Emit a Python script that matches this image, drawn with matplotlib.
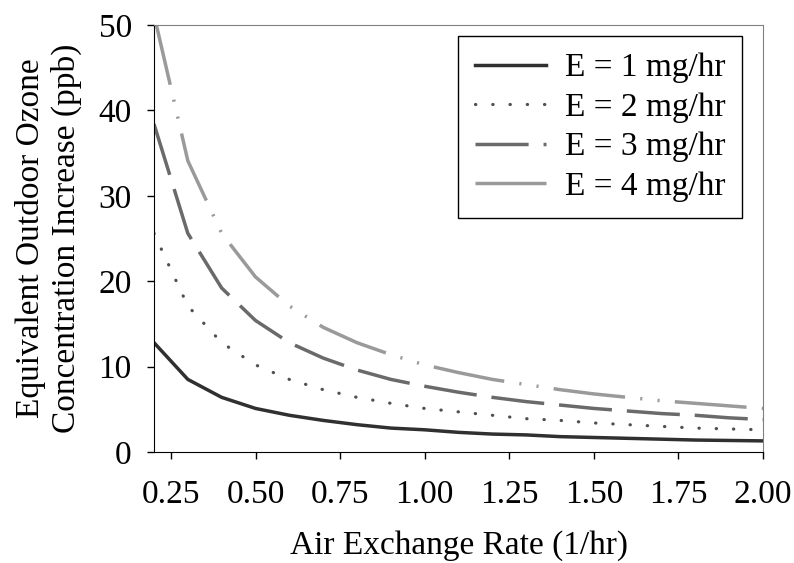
import matplotlib
matplotlib.use("Agg")
from matplotlib import pyplot as plt

plt.rcParams['font.family'] = ['Liberation Serif', 'DejaVu Serif']

# air exchange rate (1/hr)
rate = [0.2, 0.3, 0.4, 0.5, 0.6, 0.7, 0.8, 0.9, 1.0, 1.1,
        1.2, 1.3, 1.4, 1.5, 1.6, 1.7, 1.8, 1.9, 2.0]

# ozone increase (ppb) for each emission rate
e1 = [12.8, 8.5, 6.4, 5.1, 4.3, 3.7, 3.2, 2.8, 2.6, 2.3,
      2.1, 2.0, 1.8, 1.7, 1.6, 1.5, 1.4, 1.35, 1.3]
e2 = [25.6, 17.1, 12.8, 10.2, 8.5, 7.3, 6.4, 5.7, 5.1, 4.7,
      4.3, 3.9, 3.7, 3.4, 3.2, 3.0, 2.8, 2.7, 2.6]
e3 = [38.4, 25.6, 19.2, 15.4, 12.8, 11.0, 9.6, 8.5, 7.7, 7.0,
      6.4, 5.9, 5.5, 5.1, 4.8, 4.5, 4.3, 4.0, 3.8]
e4 = [51.2, 34.1, 25.6, 20.5, 17.1, 14.6, 12.8, 11.4, 10.2, 9.3,
      8.5, 7.9, 7.3, 6.8, 6.4, 6.0, 5.7, 5.4, 5.1]

labels = ['E = 1 mg/hr', 'E = 2 mg/hr', 'E = 3 mg/hr', 'E = 4 mg/hr']
xticks = [0.25, 0.50, 0.75, 1.00, 1.25, 1.50, 1.75, 2.00]
yticks = [0, 10, 20, 30, 40, 50]

fs = 24

fig = plt.figure(figsize=(7.94, 5.63), dpi=100)
ax = fig.add_axes([154 / 794, 1 - 452 / 563, (763 - 154) / 794, (452 - 25) / 563])

ax.plot(rate, e1, color='#303030', lw=2.5, label=labels[0])
ax.plot(rate, e2, color='#505050', lw=2.3, linestyle=(0, (0.1, 5.3)),
        dash_capstyle='round', label=labels[1])
ax.plot(rate, e3, color='#6a6a6a', lw=2.5, linestyle=(0, (15.3, 4.3)), label=labels[2])
ax.plot(rate, e4, color='#9a9a9a', lw=2.5,
        linestyle=(0, (20.7, 4.4, 0.6, 4.4, 0.6, 4.4)), label=labels[3])

ax.set_xlim(0.2, 2.0)
ax.set_ylim(0, 50)
ax.set_xticks(xticks)
ax.set_xticklabels(['%.2f' % v for v in xticks])
ax.set_yticks(yticks)
ax.tick_params(direction='out', length=5, width=1, labelsize=fs)
ax.tick_params(axis='x', pad=15)
ax.tick_params(axis='y', pad=11)

ax.spines['top'].set_color('#808080')
ax.spines['right'].set_color('#808080')
ax.spines['left'].set_color('black')
ax.spines['bottom'].set_color('black')

ax.set_xlabel('Air Exchange Rate (1/hr)', fontsize=fs, labelpad=14.5)
ax.set_ylabel('Equivalent Outdoor Ozone\nConcentration Increase (ppb)', fontsize=fs,
              labelpad=12, linespacing=1.2)

leg = ax.legend(loc='upper right', bbox_to_anchor=(0.9655, 0.974), borderaxespad=0,
                fontsize=fs, fancybox=False, edgecolor='black', framealpha=1,
                handlelength=2.15, borderpad=0.5, labelspacing=0.27,
                handletextpad=0.55)
leg.get_frame().set_linewidth(1.0)

fig.savefig('out.png', dpi=100)
